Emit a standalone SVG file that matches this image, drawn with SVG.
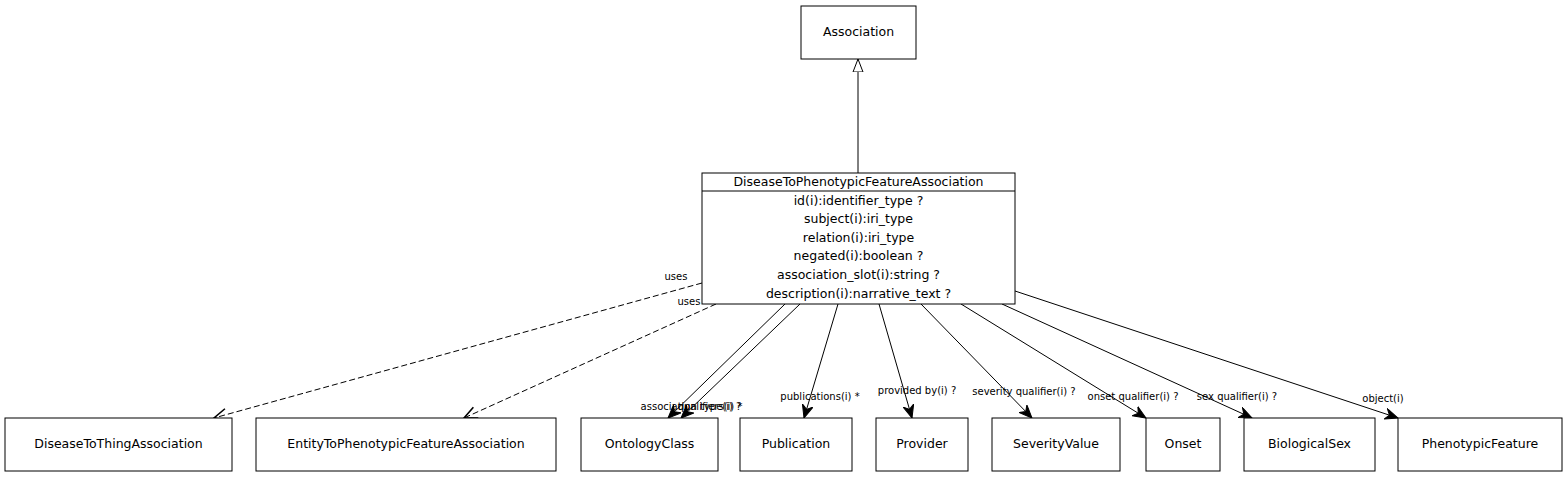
<svg xmlns="http://www.w3.org/2000/svg" width="1566" height="478" viewBox="0 0 1566 478">
<style>
.box{fill:#fff;stroke:#000;stroke-width:1}
.t{font-family:"DejaVu Sans",sans-serif;font-size:12.5px;text-anchor:middle;dominant-baseline:central;fill:#000}
.l{font-family:"DejaVu Sans",sans-serif;font-size:10px;text-anchor:middle;dominant-baseline:central;fill:#000}
.c{stroke:#000;stroke-width:1;fill:none}
.d{stroke:#000;stroke-width:1;fill:none;stroke-dasharray:6,3}
</style>
<defs>
<marker id="vee" markerUnits="userSpaceOnUse" markerWidth="14" markerHeight="12" refX="13" refY="6" orient="auto" viewBox="0 0 14 12">
<path d="M0,0.5 L13,6 L0,11.5 L4,6 z" fill="#000" stroke="#000" stroke-width="1"/>
</marker>
<marker id="open" markerUnits="userSpaceOnUse" markerWidth="16" markerHeight="14" refX="14" refY="7" orient="auto" viewBox="0 0 16 14">
<path d="M1,1 L14,7 L1,13" fill="none" stroke="#000" stroke-width="1.6"/>
</marker>
<marker id="gen" markerUnits="userSpaceOnUse" markerWidth="14" markerHeight="12" refX="13" refY="6" orient="auto" viewBox="0 0 14 12">
<path d="M0,1 L13,6 L0,11 z" fill="#fff" stroke="#000" stroke-width="1"/>
</marker>
</defs>
<rect width="1566" height="478" fill="#fff"/>
<g id="connectors">
<line class="c" x1="858" y1="173" x2="858" y2="59" marker-end="url(#gen)"/>
<line class="d" x1="702" y1="283" x2="214" y2="418" marker-end="url(#open)"/>
<line class="d" x1="716" y1="304" x2="464" y2="418" marker-end="url(#open)"/>
<line class="c" x1="785" y1="304" x2="668" y2="418" marker-end="url(#vee)"/>
<line class="c" x1="800" y1="304" x2="681" y2="418" marker-end="url(#vee)"/>
<line class="c" x1="838" y1="304" x2="804" y2="418" marker-end="url(#vee)"/>
<line class="c" x1="879" y1="304" x2="912" y2="418" marker-end="url(#vee)"/>
<line class="c" x1="921" y1="304" x2="1032" y2="418" marker-end="url(#vee)"/>
<line class="c" x1="961" y1="304" x2="1146" y2="418" marker-end="url(#vee)"/>
<line class="c" x1="1002" y1="304" x2="1252" y2="418" marker-end="url(#vee)"/>
<line class="c" x1="1015" y1="291" x2="1398" y2="418" marker-end="url(#vee)"/>
<text class="l" x="676" y="276">uses</text>
<text class="l" x="689" y="301">uses</text>
<text class="l" x="691" y="406">association type(i) ?</text>
<text class="l" x="710" y="406">qualifiers(i) *</text>
<text class="l" x="820" y="396">publications(i) *</text>
<text class="l" x="917" y="390">provided by(i) ?</text>
<text class="l" x="1024" y="391">severity qualifier(i) ?</text>
<text class="l" x="1133" y="396">onset qualifier(i) ?</text>
<text class="l" x="1237" y="396">sex qualifier(i) ?</text>
<text class="l" x="1383" y="398">object(i)</text>
</g>
<g id="Association">
<rect class="box" x="801" y="6" width="115" height="53"/>
<text class="t" x="858.5" y="31">Association</text>
</g>
<g id="DiseaseToPhenotypicFeatureAssociation">
<rect class="box" x="702" y="173" width="313" height="131"/>
<line class="c" x1="702" y1="191" x2="1015" y2="191"/>
<text class="t" x="858.5" y="181">DiseaseToPhenotypicFeatureAssociation</text>
<text class="t" x="858.5" y="200">id(i):identifier_type ?</text>
<text class="t" x="858.5" y="218">subject(i):iri_type</text>
<text class="t" x="858.5" y="237">relation(i):iri_type</text>
<text class="t" x="858.5" y="255">negated(i):boolean ?</text>
<text class="t" x="858.5" y="274">association_slot(i):string ?</text>
<text class="t" x="858.5" y="293">description(i):narrative_text ?</text>
</g>
<g id="DiseaseToThingAssociation">
<rect class="box" x="5" y="418" width="227" height="53"/>
<text class="t" x="118.5" y="443">DiseaseToThingAssociation</text>
</g>
<g id="EntityToPhenotypicFeatureAssociation">
<rect class="box" x="256" y="418" width="300" height="53"/>
<text class="t" x="406" y="443">EntityToPhenotypicFeatureAssociation</text>
</g>
<g id="OntologyClass">
<rect class="box" x="581" y="418" width="137" height="53"/>
<text class="t" x="649.5" y="443">OntologyClass</text>
</g>
<g id="Publication">
<rect class="box" x="740" y="418" width="112" height="53"/>
<text class="t" x="796" y="443">Publication</text>
</g>
<g id="Provider">
<rect class="box" x="876" y="418" width="92" height="53"/>
<text class="t" x="922" y="443">Provider</text>
</g>
<g id="SeverityValue">
<rect class="box" x="992" y="418" width="128" height="53"/>
<text class="t" x="1056" y="443">SeverityValue</text>
</g>
<g id="Onset">
<rect class="box" x="1146" y="418" width="74" height="53"/>
<text class="t" x="1183" y="443">Onset</text>
</g>
<g id="BiologicalSex">
<rect class="box" x="1244" y="418" width="131" height="53"/>
<text class="t" x="1309.5" y="443">BiologicalSex</text>
</g>
<g id="PhenotypicFeature">
<rect class="box" x="1398" y="418" width="164" height="53"/>
<text class="t" x="1480" y="443">PhenotypicFeature</text>
</g>
</svg>
